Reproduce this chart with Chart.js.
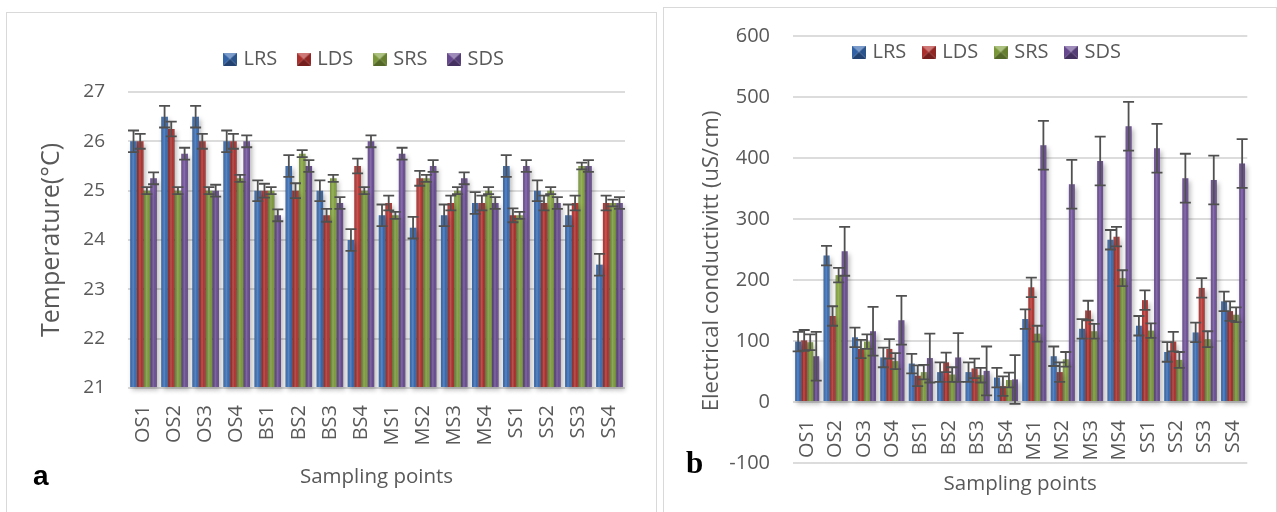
<!DOCTYPE html>
<html>
<head>
<meta charset="utf-8">
<script src="https://cdn.jsdelivr.net/npm/chart.js@4.4.1/dist/chart.umd.min.js"></script>
<style>
  html, body { margin: 0; padding: 0; background: #fff; }
  body { width: 1277px; height: 512px; position: relative; overflow: hidden; font-family: 'Open Sans', sans-serif; }
  .panel { position: absolute; border: 1px solid #d9d9d9; background: #fff; box-sizing: border-box; }
  #panelA { left: 6px; top: 12px; width: 651px; height: 520px; }
  #panelB { left: 663px; top: 7px; width: 614px; height: 525px; }
  .panel canvas { position: absolute; left: 0; top: 0; }
  .tag { position: absolute; color: #000; font-weight: bold; line-height: 1; }
  #tagA { left: 26px; top: 449px; font-family: 'Liberation Sans', Arial, sans-serif; font-size: 28px; }
  #tagB { left: 22px; top: 439px; font-family: 'Liberation Serif', 'Times New Roman', serif; font-size: 31px; }
</style>
</head>
<body>
<div class="panel" id="panelA">
  <canvas id="chartA" width="649" height="499"></canvas>
  <div class="tag" id="tagA">a</div>
</div>
<div class="panel" id="panelB">
  <canvas id="chartB" width="612" height="504"></canvas>
  <div class="tag" id="tagB">b</div>
</div>
<script>
// Sampling points and series
const categories = ['OS1', 'OS2', 'OS3', 'OS4', 'BS1', 'BS2', 'BS3', 'BS4',
                    'MS1', 'MS2', 'MS3', 'MS4', 'SS1', 'SS2', 'SS3', 'SS4'];
const seriesNames = ['LRS', 'LDS', 'SRS', 'SDS'];

// Temperature (°C), means
const tempLRS = [26.0, 26.5, 26.5, 26.0, 25.0, 25.5, 25.0, 24.0, 24.5, 24.25, 24.5, 24.75, 25.5, 25.0, 24.5, 23.5];
const tempLDS = [26.0, 26.25, 26.0, 26.0, 25.0, 25.0, 24.5, 25.5, 24.75, 25.25, 24.75, 24.75, 24.5, 24.75, 24.75, 24.75];
const tempSRS = [25.0, 25.0, 25.0, 25.25, 25.0, 25.75, 25.25, 25.0, 24.5, 25.25, 25.0, 25.0, 24.5, 25.0, 25.5, 24.75];
const tempSDS = [25.25, 25.75, 25.0, 26.0, 24.5, 25.5, 24.75, 26.0, 25.75, 25.5, 25.25, 24.75, 25.5, 24.75, 25.5, 24.75];
// Temperature, error bar half-lengths
const tempErrLRS = [0.22, 0.22, 0.22, 0.22, 0.21, 0.22, 0.21, 0.22, 0.22, 0.22, 0.22, 0.22, 0.22, 0.21, 0.22, 0.22];
const tempErrLDS = [0.15, 0.15, 0.15, 0.15, 0.14, 0.15, 0.13, 0.15, 0.15, 0.15, 0.15, 0.15, 0.14, 0.15, 0.15, 0.15];
const tempErrSRS = [0.07, 0.07, 0.07, 0.07, 0.07, 0.07, 0.07, 0.07, 0.07, 0.07, 0.07, 0.07, 0.07, 0.07, 0.07, 0.07];
const tempErrSDS = [0.12, 0.12, 0.12, 0.12, 0.12, 0.12, 0.12, 0.12, 0.12, 0.12, 0.12, 0.12, 0.12, 0.12, 0.12, 0.12];
const tempTicks = [21, 22, 23, 24, 25, 26, 27];

// Electrical conductivity (uS/cm), means
const ecLRS = [99, 240, 106, 73, 63, 49, 49, 40, 136, 75, 120, 266, 125, 82, 114, 165];
const ecLDS = [101, 141, 87, 87, 43, 65, 55, 26, 188, 49, 150, 271, 167, 99, 187, 149];
const ecSRS = [98, 208, 99, 67, 49, 45, 44, 36, 112, 70, 116, 203, 117, 69, 103, 143];
const ecSDS = [75, 247, 116, 134, 72, 73, 51, 37, 421, 357, 395, 452, 416, 367, 364, 391];
// Electrical conductivity, error bar half-lengths
const ecErrLRS = [16, 16, 16, 16, 16, 16, 16, 16, 16, 16, 16, 16, 16, 16, 16, 16];
const ecErrLDS = [17, 16, 15, 16, 17, 16, 16, 16, 16, 16, 16, 16, 16, 16, 16, 16];
const ecErrSRS = [13, 12, 12, 13, 12, 12, 12, 12, 13, 12, 12, 13, 12, 13, 13, 12];
const ecErrSDS = [40, 40, 40, 40, 40, 40, 40, 40, 40, 40, 40, 40, 40, 40, 40, 40];
const ecTicks = [-100, 0, 100, 200, 300, 400, 500, 600];

// Series colours
const seriesColors = ['#3467ae', '#b3302d', '#7f9f3b', '#6a4c94'];
const textColor = '#595959';
const gridColor = '#dcdcdc';

function shade(hex, amt) {
  const n = parseInt(hex.slice(1), 16);
  const r = n >> 16, g = (n >> 8) & 255, b = n & 255;
  const f = c => Math.round(amt >= 0 ? c + (255 - c) * amt : c * (1 + amt));
  return `rgb(${f(r)},${f(g)},${f(b)})`;
}

// Small bevelled square used as the legend key
function legendIcon(color) {
  const c = document.createElement('canvas');
  const w = 14, h = 13, cx = 7, cy = 6.5;
  c.width = w; c.height = h;
  const g = c.getContext('2d');
  const tri = (pts, col) => {
    g.beginPath();
    g.moveTo(pts[0][0], pts[0][1]);
    for (let i = 1; i < pts.length; i++) g.lineTo(pts[i][0], pts[i][1]);
    g.closePath();
    g.fillStyle = col;
    g.fill();
  };
  tri([[0, 0], [w, 0], [cx, cy]], shade(color, 0.35));
  tri([[0, 0], [cx, cy], [0, h]], shade(color, -0.05));
  tri([[w, 0], [w, h], [cx, cy]], shade(color, -0.2));
  tri([[0, h], [cx, cy], [w, h]], shade(color, -0.35));
  return c;
}
const icons = seriesColors.map(legendIcon);

// Shading, drop shadow and error bars for the bars
const barDecor = {
  id: 'barDecor',
  beforeDatasetsDraw(chart) {
    const c = chart.ctx;
    c.save();
    c.shadowColor = 'rgba(0,0,0,0.30)';
    c.shadowBlur = 5;
    c.shadowOffsetX = 2;
    c.shadowOffsetY = 3;
  },
  afterDatasetsDraw(chart) {
    const c = chart.ctx;
    c.restore();
    const yScale = chart.scales.y;
    chart.data.datasets.forEach((ds, di) => {
      const meta = chart.getDatasetMeta(di);
      meta.data.forEach((bar) => {
        const p = bar.getProps(['x', 'y', 'base', 'width'], true);
        const left = p.x - p.width / 2;
        const top = Math.min(p.y, p.base);
        const h = Math.abs(p.base - p.y);
        const g = c.createLinearGradient(left, 0, left + p.width, 0);
        g.addColorStop(0, 'rgba(0,0,0,0.30)');
        g.addColorStop(0.2, 'rgba(255,255,255,0.04)');
        g.addColorStop(0.45, 'rgba(255,255,255,0.20)');
        g.addColorStop(0.75, 'rgba(255,255,255,0.0)');
        g.addColorStop(1, 'rgba(0,0,0,0.32)');
        c.fillStyle = g;
        c.fillRect(left, top, p.width, h);
      });
    });
    c.save();
    c.strokeStyle = '#505050';
    c.lineWidth = 1.8;
    chart.data.datasets.forEach((ds, di) => {
      const meta = chart.getDatasetMeta(di);
      meta.data.forEach((bar, i) => {
        const v = ds.data[i], e = ds.errors[i];
        const x = bar.getProps(['x'], true).x;
        const yHi = yScale.getPixelForValue(v + e);
        const yLo = yScale.getPixelForValue(v - e);
        c.beginPath();
        c.moveTo(x, yHi); c.lineTo(x, yLo);
        c.moveTo(x - 5.5, yHi); c.lineTo(x + 5.5, yHi);
        c.moveTo(x - 5.5, yLo); c.lineTo(x + 5.5, yLo);
        c.stroke();
      });
    });
    c.restore();
  }
};

// Reserves a fixed band for the legend and sets where its row is drawn
const legendPlace = {
  id: 'legendPlace',
  beforeLayout(chart, args, opts) {
    const lg = chart.legend;
    if (!lg || lg._placeWrapped) return;
    const fit = lg.fit.bind(lg);
    lg.fit = function () {
      fit();
      this.height = opts.reserve;
    };
    lg._placeWrapped = true;
  },
  afterLayout(chart, args, opts) {
    const lg = chart.legend;
    if (!lg) return;
    const P = lg.options.labels.padding;
    const fs = lg.options.labels.font.size;
    lg.left = opts.x + 3.5 - P;
    lg.right = lg.left + 520;
    lg.width = 520;
    lg.top = opts.y - P - fs / 2;
    lg.bottom = lg.top + 2 * P + fs;
    lg.height = 2 * P + fs;
  }
};

function makeDatasets(values, errors, extra) {
  return seriesNames.map((name, i) => Object.assign({
    label: name,
    data: values[i],
    errors: errors[i],
    backgroundColor: seriesColors[i],
    borderWidth: 0,
    categoryPercentage: 0.86,
    barPercentage: 0.96,
    clip: false
  }, extra));
}

function legendOptions(padding) {
  return {
    display: true,
    position: 'top',
    align: 'start',
    fullSize: false,
    labels: {
      usePointStyle: true,
      pointStyleWidth: 7,
      padding: padding,
      color: textColor,
      font: { family: 'Open Sans', size: 20 },
      generateLabels: (chart) => chart.data.datasets.map((ds, i) => ({
        text: ds.label,
        pointStyle: icons[i],
        fillStyle: seriesColors[i],
        strokeStyle: 'transparent',
        lineWidth: 0,
        hidden: false,
        datasetIndex: i,
        fontColor: textColor
      }))
    }
  };
}

const tickFont = (size) => ({ family: 'Open Sans', size: size });

// Panel a: temperature
new Chart(document.getElementById('chartA'), {
  type: 'bar',
  data: { labels: categories, datasets: makeDatasets(
    [tempLRS, tempLDS, tempSRS, tempSDS],
    [tempErrLRS, tempErrLDS, tempErrSRS, tempErrSDS],
    { base: tempTicks[0] }) },
  options: {
    responsive: false,
    animation: false,
    events: [],
    layout: { padding: { top: 0, right: 31, bottom: 19, left: 0 } },
    plugins: {
      legend: legendOptions(23),
      legendPlace: { reserve: 79, x: 216, y: 46 },
      tooltip: { enabled: false }
    },
    scales: {
      x: {
        grid: { display: false, drawTicks: false },
        border: { display: false },
        ticks: { color: textColor, font: tickFont(20), minRotation: 90, maxRotation: 90, padding: 17, autoSkip: false },
        title: { display: true, text: 'Sampling points', color: textColor, font: tickFont(20.5), padding: { top: 2, bottom: 4 } }
      },
      y: {
        min: tempTicks[0],
        max: tempTicks[tempTicks.length - 1],
        afterFit: (s) => { s.width = 121; },
        afterBuildTicks: (s) => { s.ticks = tempTicks.map(v => ({ value: v })); },
        grid: { color: gridColor, lineWidth: 2, drawTicks: false },
        border: { display: false },
        ticks: { color: textColor, font: tickFont(19), padding: 23 },
        title: { display: true, text: 'Temperature(°C)', color: textColor, font: tickFont(25), padding: { top: 30, bottom: 0 } }
      }
    }
  },
  plugins: [barDecor, legendPlace]
});

// Panel b: electrical conductivity
new Chart(document.getElementById('chartB'), {
  type: 'bar',
  data: { labels: categories, datasets: makeDatasets(
    [ecLRS, ecLDS, ecSRS, ecSDS],
    [ecErrLRS, ecErrLDS, ecErrSRS, ecErrSDS],
    { categoryPercentage: 0.85 }) },
  options: {
    responsive: false,
    animation: false,
    events: [],
    layout: { padding: { top: 28, right: 8, bottom: 49, left: 0 } },
    plugins: {
      legend: legendOptions(19),
      legendPlace: { reserve: 0, x: 188, y: 44 },
      tooltip: { enabled: false }
    },
    scales: {
      x: {
        position: { y: 0 },
        grid: { display: false, drawTicks: false },
        border: { display: false },
        ticks: { color: textColor, font: tickFont(20), minRotation: 90, maxRotation: 90, padding: 18, autoSkip: false },
        title: { display: true, text: 'Sampling points', color: textColor, font: tickFont(20.5), padding: { top: -7, bottom: 4 } }
      },
      y: {
        min: ecTicks[0],
        max: ecTicks[ecTicks.length - 1],
        afterFit: (s) => { s.width = 129; s.paddingTop = 0; s.paddingBottom = 0; },
        afterBuildTicks: (s) => { s.ticks = ecTicks.map(v => ({ value: v })); },
        grid: { color: gridColor, lineWidth: 2, drawTicks: false },
        border: { display: false },
        ticks: { color: textColor, font: tickFont(20), padding: 23 },
        title: { display: true, text: 'Electrical conductivitt (uS/cm)    ', color: textColor, font: tickFont(22), padding: { top: 35, bottom: 0 } }
      }
    }
  },
  plugins: [barDecor, legendPlace]
});
</script>
</body>
</html>
